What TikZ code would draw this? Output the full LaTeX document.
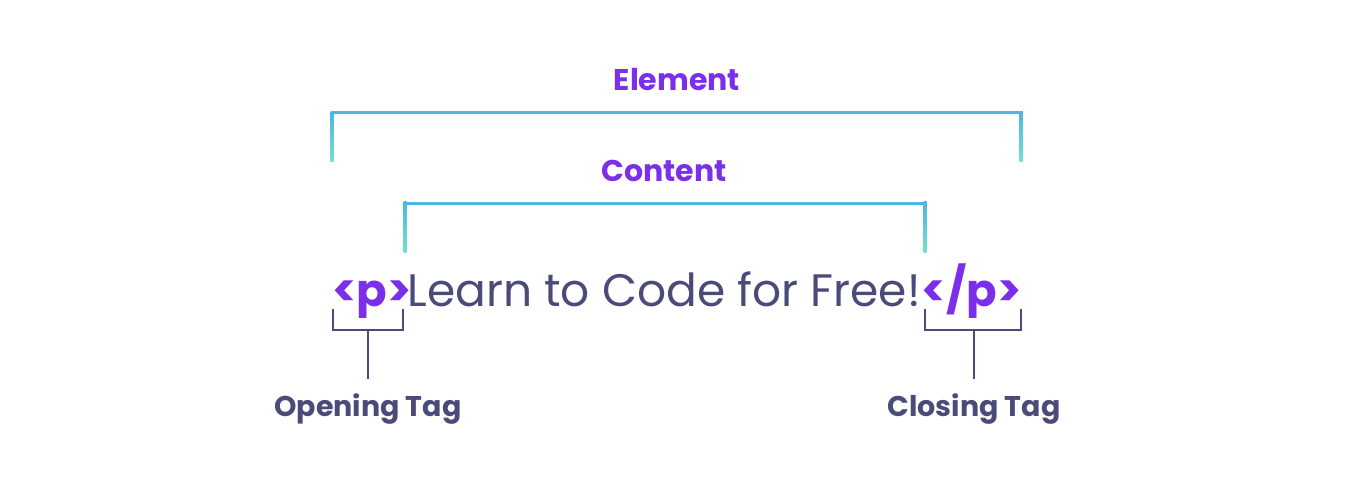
\documentclass[tikz,border=0pt]{standalone}
\usepackage{fontspec}
\setmainfont{Poppins}
\definecolor{tagpurple}{HTML}{7B2FEA}
\definecolor{navy}{HTML}{4A4B78}
\definecolor{cyanA}{HTML}{4DB6E2}
\definecolor{cyanB}{HTML}{70E2D2}
\begin{document}
\begin{tikzpicture}[x=1pt,y=-1pt,
  brk/.style={cyanA, line width=3pt},
  tagbrk/.style={navy, line width=2.8pt},
  lbl/.style={inner sep=0pt, font=\bfseries\fontsize{30}{30}\selectfont},
  sublbl/.style={inner sep=0pt, text=navy, font=\bfseries\fontsize{28.5}{28.5}\selectfont},
  tagtxt/.style={inner sep=0pt, text=tagpurple, font=\bfseries\fontsize{45}{45}\selectfont},
  bodytxt/.style={inner sep=0pt, text=navy, font=\fontsize{45.5}{45.5}\selectfont}]
\useasboundingbox[fill=white] (0,0) rectangle (1368,492);
% Element bracket
\node[lbl, text=tagpurple, anchor=base] (element) at (677,91) {Element};
\draw[brk] (330.5,113) -- (1022.5,113);
\shade[top color=cyanA, bottom color=cyanB] (330.5,111.5) rectangle (333.5,162);
\shade[top color=cyanA, bottom color=cyanB] (1019.5,111.5) rectangle (1022.5,162);
% Content bracket
\node[lbl, text=tagpurple, anchor=base] (content) at (664,181) {Content};
\draw[brk] (403.5,203) -- (926.5,203);
\shade[top color=cyanA, bottom color=cyanB] (403.5,201.5) rectangle (406.5,252);
\shade[top color=cyanA, bottom color=cyanB] (923.5,201.5) rectangle (926.5,252);
% main line
\node[tagtxt, anchor=base west] (openp) at (332,306) {<p>};
\node[bodytxt, anchor=base] (body) at (664,306) {Learn to Code for Free!};
\node[tagtxt, anchor=base east] (closep) at (1022,306) {</p>};
% opening tag bracket
\draw[tagbrk] (333,309) -- (333,330) -- (403,330) -- (403,309);
\coordinate (ostem) at (368,330);
\node[sublbl, anchor=base] (opening) at (368,416) {Opening Tag};
\draw[tagbrk] (ostem) -- (368,379);
% closing tag bracket
\draw[tagbrk] (925,309) -- (925,330) -- (1021,330) -- (1021,309);
\coordinate (cstem) at (974,330);
\node[sublbl, anchor=base] (closing) at (974,416) {Closing Tag};
\draw[tagbrk] (cstem) -- (974,379);
\end{tikzpicture}
\end{document}
